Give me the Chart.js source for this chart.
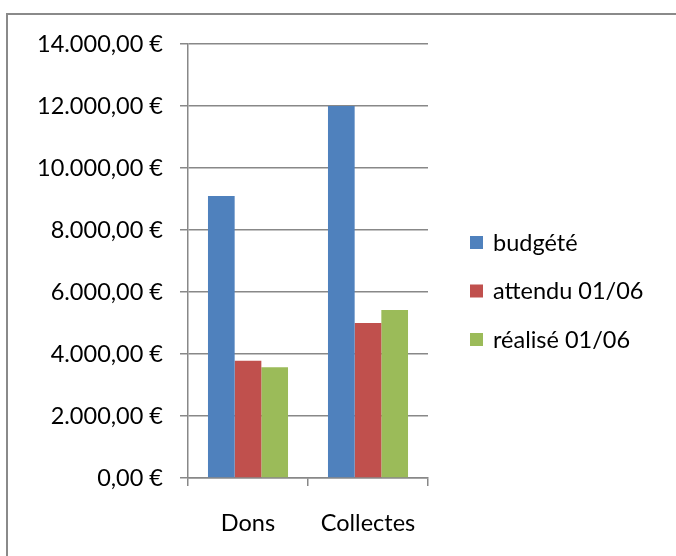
<!DOCTYPE html>
<html>
<head>
<meta charset="utf-8">
<script src="https://cdn.jsdelivr.net/npm/chart.js@4.4.1/dist/chart.umd.min.js"></script>
<style>
  html, body { margin: 0; padding: 0; background: #fff; overflow: hidden; }
  #wrap { position: relative; width: 676px; height: 556px; }
  #frame { position: absolute; left: 6px; top: 13px; width: 700px; height: 600px; border: 2px solid #8a8a8a; box-sizing: border-box; }
  canvas { position: absolute; left: 0; top: 0; }
</style>
</head>
<body>
<div id="wrap">
  <div id="frame"></div>
  <canvas id="chart" width="676" height="556"></canvas>
</div>
<script>
// data
const categories = ["Dons", "Collectes"];
const seriesNames = ["budgété", "attendu 01/06", "réalisé 01/06"];
const budgete = [9100, 12000];
const attendu = [3780, 5000];
const realise = [3570, 5420];
const seriesColors = ["#4F81BD", "#C0504D", "#9BBB59"];

const FONT = "Lato, 'Liberation Sans', sans-serif";
const FSIZE = 23.5;

const euro = (v) => {
  const s = Math.round(v).toString().replace(/\B(?=(\d{3})+(?!\d))/g, ".");
  return s + ",00 €";
};

// legend drawn by hand at Excel's spot
const sideLegend = {
  id: "sideLegend",
  afterDraw(chart) {
    const ctx = chart.ctx;
    ctx.save();
    ctx.font = FSIZE + "px " + FONT;
    ctx.textBaseline = "middle";
    chart.data.datasets.forEach((ds, i) => {
      const cy = 242 + i * 48.5;
      ctx.fillStyle = ds.backgroundColor;
      ctx.fillRect(470, cy - 6, 13, 13);
      ctx.fillStyle = "#000";
      ctx.fillText(ds.label, 493, cy + 1);
    });
    ctx.restore();
  }
};

const series = [budgete, attendu, realise];

new Chart(document.getElementById("chart"), {
  type: "bar",
  data: {
    labels: categories,
    datasets: series.map((vals, i) => ({
      label: seriesNames[i],
      data: vals,
      backgroundColor: seriesColors[i],
      borderWidth: 0,
      categoryPercentage: 0.667,
      barPercentage: 1
    }))
  },
  options: {
    responsive: false,
    animation: false,
    layout: { padding: { left: 0, top: 44, right: 248, bottom: 0 } },
    plugins: {
      legend: { display: false },
      tooltip: { enabled: false }
    },
    scales: {
      x: {
        afterFit: (s) => { s.height = 78; },
        grid: { offset: true, drawOnChartArea: false, tickLength: 8, color: "#888", lineWidth: 1.5 },
        border: { color: "#888", width: 1.5 },
        ticks: { color: "#000", font: { family: FONT, size: FSIZE }, padding: 23 }
      },
      y: {
        min: 0,
        max: 14000,
        afterFit: (s) => { s.width = 188; },
        grid: { color: "#888", lineWidth: 1.5, tickLength: 8 },
        border: { color: "#888", width: 1.5 },
        ticks: {
          stepSize: 2000,
          color: "#000",
          padding: 17,
          font: { family: FONT, size: FSIZE },
          callback: (v) => euro(v)
        }
      }
    }
  },
  plugins: [sideLegend]
});
</script>
</body>
</html>
